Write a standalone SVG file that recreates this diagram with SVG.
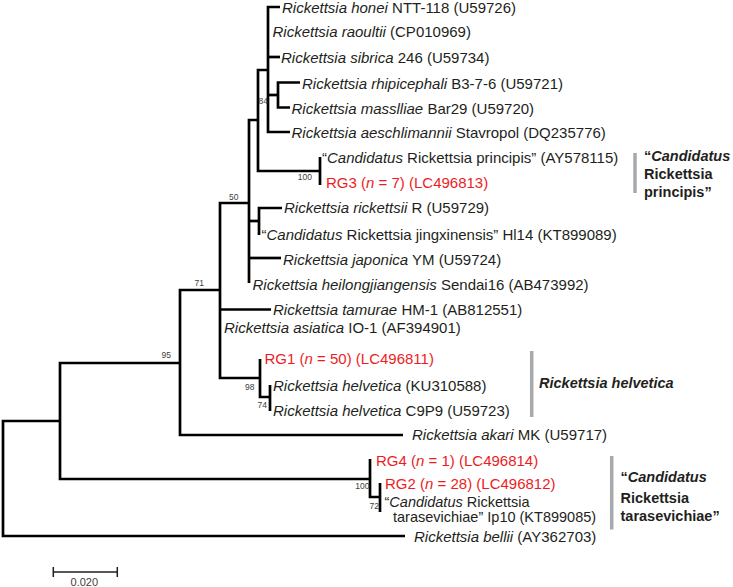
<svg xmlns="http://www.w3.org/2000/svg" width="733" height="587" viewBox="0 0 733 587">
<style>
text { font-family: "Liberation Sans", Arial, Helvetica, sans-serif; font-size: 15px; fill: #231f20; }
.i { font-style: italic; }
.r { fill: #ed1c24; }
.s { font-size: 14.5px; }
.bs { font-size: 8.5px; fill: #404040; text-anchor: end; }
.cl { font-weight: bold; font-size: 14.5px; }
.br { stroke: #000; stroke-width: 2.7; fill: none; stroke-linejoin: miter; stroke-linecap: butt; }
.bar { stroke: #a7a9ac; stroke-width: 3.5; fill: none; }
.sc { stroke: #231f20; stroke-width: 1.5; fill: none; }
.sct { font-size: 11px; fill: #404040; text-anchor: middle; }
</style>
<rect width="733" height="587" fill="#fff"/>
<g id="branches">
<path class="br" d="M60 421 H3 V536 H405"/>
<path class="br" d="M180 363 H60 V479 H370"/>
<path class="br" d="M220 290 H180 V435 H403"/>
<path class="br" d="M249 203 H220 V378 H260"/>
<path class="br" d="M220 309.5 H271"/>
<path class="br" d="M260 359 V397 H270"/>
<path class="br" d="M270 385 V411"/>
<path class="br" d="M258 120 H249 V283"/>
<path class="br" d="M249 221 H259"/>
<path class="br" d="M249 258 H281"/>
<path class="br" d="M268 70 H258 V171 H320"/>
<path class="br" d="M320 157 V185"/>
<path class="br" d="M280 7 H268 V132 H290"/>
<path class="br" d="M268 57 H280"/>
<path class="br" d="M268 95 H278"/>
<path class="br" d="M300 82.5 H278 V107.5 H290"/>
<path class="br" d="M282 208 H259 V235"/>
<path class="br" d="M370 459 V497 H380"/>
<path class="br" d="M380 483 V512"/>
</g>
<g id="bootstrap">
<text class="bs" x="268" y="104">84</text>
<text class="bs" x="312" y="179.5">100</text>
<text class="bs" x="238.5" y="200">50</text>
<text class="bs" x="204" y="286">71</text>
<text class="bs" x="171" y="357.5">95</text>
<text class="bs" x="254.5" y="389.5">98</text>
<text class="bs" x="267" y="407.5">74</text>
<text class="bs" x="369.5" y="488.5">100</text>
<text class="bs" x="379" y="509">72</text>
</g>
<g id="leaf-honei"><text x="282" y="13"><tspan class="i">Rickettsia honei</tspan> NTT-118 (U59726)</text></g>
<g id="leaf-raoultii"><text x="272.5" y="37"><tspan class="i">Rickettsia raoultii</tspan> (CP010969)</text></g>
<g id="leaf-sibrica"><text x="281" y="63"><tspan class="i">Rickettsia sibrica</tspan> 246 (U59734)</text></g>
<g id="leaf-rhipicephali"><text x="302" y="88.5"><tspan class="i">Rickettsia rhipicephali</tspan> B3-7-6 (U59721)</text></g>
<g id="leaf-massiliae"><text x="291.5" y="113.5"><tspan class="i">Rickettsia masslliae</tspan> Bar29 (U59720)</text></g>
<g id="leaf-aeschlimannii"><text x="291.5" y="138"><tspan class="i">Rickettsia aeschlimannii</tspan> Stavropol (DQ235776)</text></g>
<g id="leaf-principis"><text x="322" y="163">“<tspan class="i">Candidatus</tspan> Rickettsia principis” (AY578115)</text></g>
<g id="leaf-rg3"><text class="r" x="326" y="188">RG3 (<tspan class="i">n</tspan> = 7) (LC496813)</text></g>
<g id="leaf-rickettsii"><text x="284" y="213"><tspan class="i">Rickettsia rickettsii</tspan> R (U59729)</text></g>
<g id="leaf-jingxinensis"><text x="261.5" y="239.5">“<tspan class="i">Candidatus</tspan> Rickettsia jingxinensis” Hl14 (KT899089)</text></g>
<g id="leaf-japonica"><text x="283" y="265"><tspan class="i">Rickettsia japonica</tspan> YM (U59724)</text></g>
<g id="leaf-heilongjiangensis"><text x="252.5" y="289.5"><tspan class="i">Rickettsia heilongjiangensis</tspan> Sendai16 (AB473992)</text></g>
<g id="leaf-tamurae"><text x="273" y="315"><tspan class="i">Rickettsia tamurae</tspan> HM-1 (AB812551)</text></g>
<g id="leaf-asiatica"><text x="224" y="333"><tspan class="i">Rickettsia asiatica</tspan> IO-1 (AF394901)</text></g>
<g id="leaf-rg1"><text class="r" x="264.5" y="364">RG1 (<tspan class="i">n</tspan> = 50) (LC496811)</text></g>
<g id="leaf-helvetica1"><text x="273" y="391"><tspan class="i">Rickettsia helvetica</tspan> (KU310588)</text></g>
<g id="leaf-helvetica2"><text x="273" y="415.5"><tspan class="i">Rickettsia helvetica</tspan> C9P9 (U59723)</text></g>
<g id="leaf-akari"><text x="412" y="439.5"><tspan class="i">Rickettsia akari</tspan> MK (U59717)</text></g>
<g id="leaf-rg4"><text class="r" x="376" y="465.5">RG4 (<tspan class="i">n</tspan> = 1) (LC496814)</text></g>
<g id="leaf-rg2"><text class="r" x="385" y="488.5">RG2 (<tspan class="i">n</tspan> = 28) (LC496812)</text></g>
<g id="leaf-tarasevichiae"><text class="s" x="384.5" y="506.5">“<tspan class="i">Candidatus</tspan> Rickettsia</text><text class="s" x="393" y="521.5">tarasevichiae” Ip10 (KT899085)</text></g>
<g id="leaf-bellii"><text x="414" y="541.5"><tspan class="i">Rickettsia bellii</tspan> (AY362703)</text></g>
<g id="clade-principis">
<line class="bar" x1="635" y1="153" x2="635" y2="193"/>
<text class="cl" x="644" y="161">“<tspan class="i">Candidatus</tspan></text>
<text class="cl" x="644" y="179">Rickettsia</text>
<text class="cl" x="644" y="197">principis”</text>
</g>
<g id="clade-helvetica">
<line class="bar" x1="531.7" y1="351" x2="531.7" y2="417"/>
<text class="cl i" x="539" y="387.5">Rickettsia helvetica</text>
</g>
<g id="clade-tarasevichiae">
<line class="bar" x1="611.7" y1="456" x2="611.7" y2="529.5"/>
<text class="cl" x="620.5" y="481.7">“<tspan class="i">Candidatus</tspan></text>
<text class="cl" x="620.5" y="503.3">Rickettsia</text>
<text class="cl" x="620.5" y="520.7">tarasevichiae”</text>
</g>
<g id="scale-bar">
<path class="sc" d="M53.3 572 H117.3 M53.3 567 V577 M117.3 567 V577"/>
<text class="sct" x="84.3" y="585.5">0.020</text>
</g>
</svg>
